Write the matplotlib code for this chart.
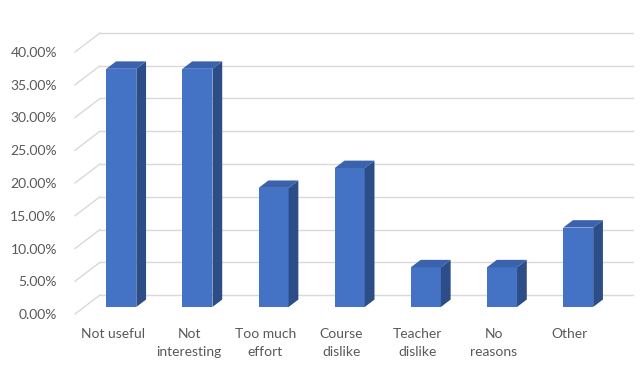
import matplotlib
matplotlib.use("Agg")
import matplotlib.pyplot as plt
from matplotlib.patches import Polygon

categories = ["Not useful", "Not\ninteresting", "Too much\neffort", "Course\ndislike",
              "Teacher\ndislike", "No\nreasons", "Other"]
values = [12/33*100, 12/33*100, 6/33*100, 7/33*100, 2/33*100, 2/33*100, 4/33*100]
yticks = [0, 5, 10, 15, 20, 25, 30, 35, 40]

front_c = "#4472C4"
side_c = "#2C4D87"
top_c = "#3A62AD"
grid_c = "#D9D9D9"
text_c = "#595959"

fig = plt.figure(figsize=(6.4, 3.71), dpi=100)
ax = fig.add_axes([75/640, (371-314)/371, (608-75)/640, (314-52)/371])
ax.set_xlim(-0.5, 6.5)
ax.set_ylim(0, 40)

ddx = 25/76.14   # depth offset in category units
ddy = 19/6.55    # depth offset in percent units
d0, d1 = 0.33, 0.72
w = 0.394

# gridlines: back wall + left side wall
for v in yticks:
    ax.plot([-0.5, -0.5+ddx], [v, v+ddy], color=grid_c, lw=1, clip_on=False, zorder=1)
    ax.plot([-0.5+ddx, 6.5+ddx], [v+ddy, v+ddy], color=grid_c, lw=1, clip_on=False, zorder=1)

for i, v in enumerate(values):
    x0 = i - w/2 + d0*ddx
    x1 = x0 + w
    y0 = 0.37*ddy
    yt = y0 + v
    sx = (d1-d0)*ddx
    sy = (d1-d0)*ddy
    ax.add_patch(Polygon([(x0, y0), (x1, y0), (x1, yt), (x0, yt)], closed=True,
                         facecolor=front_c, edgecolor="none", zorder=3, clip_on=False))
    ax.add_patch(Polygon([(x1, y0), (x1+sx, y0+sy), (x1+sx, yt+sy), (x1, yt)], closed=True,
                         facecolor=side_c, edgecolor="none", zorder=3, clip_on=False))
    ax.add_patch(Polygon([(x0, yt), (x1, yt), (x1+sx, yt+sy), (x0+sx, yt+sy)], closed=True,
                         facecolor=top_c, edgecolor="none", zorder=3, clip_on=False))

for s in ax.spines.values():
    s.set_visible(False)
ax.set_yticks(yticks)
ax.set_yticklabels([f"{v:.2f}%" for v in yticks], fontsize=10, color=text_c, family="Lato")
ax.set_xticks(range(len(categories)))
ax.set_xticklabels(categories, fontsize=10, color=text_c, family="Lato", linespacing=1.6)
ax.tick_params(axis="y", length=0, pad=13)
ax.tick_params(axis="x", length=0, pad=10)

fig.savefig("out.png", dpi=100)
